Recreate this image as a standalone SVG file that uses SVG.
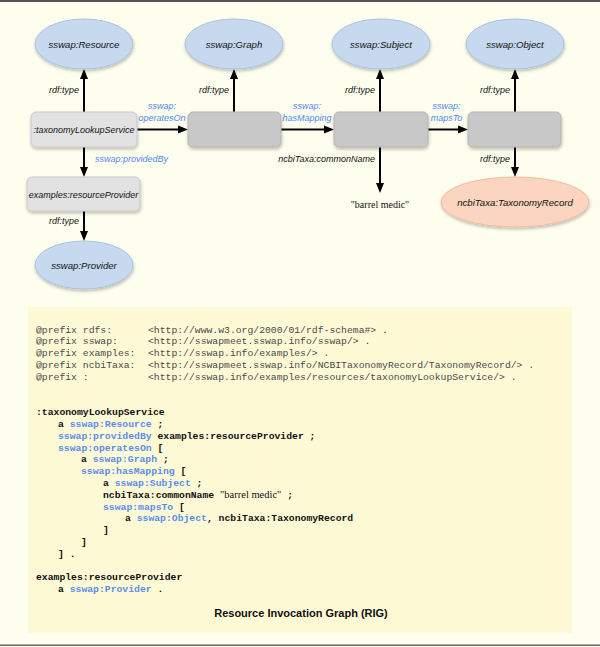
<svg xmlns="http://www.w3.org/2000/svg" width="600" height="647" viewBox="0 0 600 647">
<style>
.lbl{font-family:"Liberation Sans",Arial,sans-serif;font-style:italic;font-size:9px;fill:#111}
.big{font-size:9.6px}
.blue{fill:#4f86f0}
.mid{text-anchor:middle}
.end{text-anchor:end}
.ell{fill:#c6d9ee;stroke:#a9c2df;stroke-width:1}
.box1{fill:#e2e2e2;stroke:#c9c9c9;stroke-width:1}
.box2{fill:#c8c8c8;stroke:#b4b4b4;stroke-width:1}
.edge{stroke:#000;stroke-width:2;fill:none;marker-end:url(#ah)}
.code{font-family:"Liberation Mono","Courier New",monospace;font-size:9.75px}
.pre{fill:#4a4a4a}
.b{font-weight:bold;fill:#111}
.kw{fill:#5a8cf0}
.ser{font-family:"Liberation Serif","Times New Roman",serif;font-weight:normal;font-size:10.5px}
</style>
<defs>
<filter id="sh" x="-20%" y="-20%" width="140%" height="160%">
<feDropShadow dx="0.5" dy="2" stdDeviation="1.5" flood-color="#000" flood-opacity="0.25"/>
</filter>
<marker id="ah" markerUnits="userSpaceOnUse" markerWidth="10" markerHeight="10" viewBox="0 0 10 10" refX="5" refY="5" orient="auto">
<path d="M0,1 L10,5 L0,9 z" fill="#000"/>
</marker>
</defs>
<rect x="0" y="0" width="600" height="647" fill="#fefeee"/>
<rect x="0" y="0" width="600" height="2" fill="#555"/>
<rect x="0" y="644.5" width="600" height="1.5" fill="#666"/>
<rect x="28" y="307" width="544" height="326" fill="#fffad6"/>

<g id="connectors">
<line class="edge" x1="84" y1="112" x2="84" y2="74"/>
<line class="edge" x1="234" y1="112" x2="234" y2="74"/>
<line class="edge" x1="380" y1="112" x2="380" y2="74"/>
<line class="edge" x1="515" y1="112" x2="515" y2="74"/>
<line class="edge" x1="137" y1="129.5" x2="183" y2="129.5"/>
<line class="edge" x1="281" y1="129.5" x2="329" y2="129.5"/>
<line class="edge" x1="428" y1="129.5" x2="463" y2="129.5"/>
<line class="edge" x1="84" y1="147" x2="84" y2="172"/>
<line class="edge" x1="84" y1="211" x2="84" y2="236"/>
<line class="edge" x1="380" y1="147" x2="380" y2="188"/>
<line class="edge" x1="515" y1="147" x2="515" y2="172"/>
<text class="lbl end" x="79" y="93">rdf:type</text>
<text class="lbl end" x="229" y="93">rdf:type</text>
<text class="lbl end" x="375" y="93">rdf:type</text>
<text class="lbl end" x="510" y="93">rdf:type</text>
<text class="lbl blue mid" x="162" y="108.5">sswap:</text>
<text class="lbl blue mid" x="162" y="120.5">operatesOn</text>
<text class="lbl blue mid" x="307" y="108.5">sswap:</text>
<text class="lbl blue mid" x="307" y="120.5">hasMapping</text>
<text class="lbl blue mid" x="446.5" y="108.5">sswap:</text>
<text class="lbl blue mid" x="446.5" y="120.5">mapsTo</text>
<text class="lbl blue" x="95" y="162">sswap:providedBy</text>
<text class="lbl end" x="375" y="162">ncbiTaxa:commonName</text>
<text class="lbl end" x="510" y="162">rdf:type</text>
<text class="lbl end" x="79" y="224">rdf:type</text>
</g>

<g id="n-resource">
<ellipse class="ell" cx="84" cy="44" rx="49" ry="25" filter="url(#sh)"/>
<text class="lbl big mid" x="84" y="47.5">sswap:Resource</text>
</g>
<g id="n-graph">
<ellipse class="ell" cx="234" cy="44" rx="49" ry="25" filter="url(#sh)"/>
<text class="lbl big mid" x="234" y="47.5">sswap:Graph</text>
</g>
<g id="n-subject">
<ellipse class="ell" cx="381" cy="44" rx="49" ry="25" filter="url(#sh)"/>
<text class="lbl big mid" x="381" y="47.5">sswap:Subject</text>
</g>
<g id="n-object">
<ellipse class="ell" cx="515" cy="44" rx="49" ry="25" filter="url(#sh)"/>
<text class="lbl big mid" x="515" y="47.5">sswap:Object</text>
</g>
<g id="n-service">
<rect class="box1" x="31" y="112" width="106" height="35" rx="5" filter="url(#sh)"/>
<text class="lbl mid" x="84" y="133">:taxonomyLookupService</text>
</g>
<g id="n-graph-inst">
<rect class="box2" x="188" y="112" width="93" height="35" rx="5" filter="url(#sh)"/>
</g>
<g id="n-subject-inst">
<rect class="box2" x="334" y="112" width="94" height="35" rx="5" filter="url(#sh)"/>
</g>
<g id="n-object-inst">
<rect class="box2" x="468" y="112" width="93" height="35" rx="5" filter="url(#sh)"/>
</g>
<g id="n-provider-inst">
<rect class="box1" x="27" y="177" width="113" height="34" rx="5" filter="url(#sh)"/>
<text class="lbl mid" x="83.5" y="197.5">examples:resourceProvider</text>
</g>
<g id="n-provider">
<ellipse class="ell" cx="84" cy="265" rx="49" ry="24" filter="url(#sh)"/>
<text class="lbl big mid" x="84" y="268.5">sswap:Provider</text>
</g>
<g id="n-literal">
<text x="380" y="207.5" text-anchor="middle" font-family="Liberation Serif, Times New Roman, serif" font-size="10" fill="#111">"barrel medic"</text>
</g>
<g id="n-taxrecord">
<ellipse cx="515" cy="202" rx="74" ry="25" fill="#fbd5bf" stroke="#efbda0" stroke-width="1" filter="url(#sh)"/>
<text class="lbl big mid" x="515" y="205.5">ncbiTaxa:TaxonomyRecord</text>
</g>

<g id="code" class="code">
<text class="pre" x="36" y="332.5">@prefix rdfs:</text>
<text class="pre" x="148" y="332.5">&lt;http://www.w3.org/2000/01/rdf-schema#&gt; .</text>
<text class="pre" x="36" y="344.3">@prefix sswap:</text>
<text class="pre" x="148" y="344.3">&lt;http://sswapmeet.sswap.info/sswap/&gt; .</text>
<text class="pre" x="36" y="356.1">@prefix examples:</text>
<text class="pre" x="148" y="356.1">&lt;http://sswap.info/examples/&gt; .</text>
<text class="pre" x="36" y="367.9">@prefix ncbiTaxa:</text>
<text class="pre" x="148" y="367.9">&lt;http://sswapmeet.sswap.info/NCBITaxonomyRecord/TaxonomyRecord/&gt; .</text>
<text class="pre" x="36" y="379.7">@prefix :</text>
<text class="pre" x="148" y="379.7">&lt;http://sswap.info/examples/resources/taxonomyLookupService/&gt; .</text>

<text class="b" x="36" y="415.2">:taxonomyLookupService</text>
<text class="b" x="58" y="427">a <tspan class="kw">sswap:Resource</tspan> ;</text>
<text class="b" x="58" y="438.8"><tspan class="kw">sswap:providedBy</tspan> examples:resourceProvider ;</text>
<text class="b" x="58" y="450.6"><tspan class="kw">sswap:operatesOn</tspan> [</text>
<text class="b" x="81" y="462.4">a <tspan class="kw">sswap:Graph</tspan> ;</text>
<text class="b" x="81" y="474.2"><tspan class="kw">sswap:hasMapping</tspan> [</text>
<text class="b" x="103" y="486">a <tspan class="kw">sswap:Subject</tspan> ;</text>
<text class="b" x="103" y="497.8">ncbiTaxa:commonName <tspan class="ser">"barrel medic"</tspan> ;</text>
<text class="b" x="103" y="509.6"><tspan class="kw">sswap:mapsTo</tspan> [</text>
<text class="b" x="125" y="521.4">a <tspan class="kw">sswap:Object</tspan>, ncbiTaxa:TaxonomyRecord</text>
<text class="b" x="103" y="533.2">]</text>
<text class="b" x="81" y="545">]</text>
<text class="b" x="58" y="556.8">] .</text>
<text class="b" x="36" y="580.4">examples:resourceProvider</text>
<text class="b" x="58" y="592.2">a <tspan class="kw">sswap:Provider</tspan> .</text>
</g>
<text x="301" y="617" text-anchor="middle" font-family="Liberation Sans, Arial, sans-serif" font-weight="bold" font-size="11" fill="#111">Resource Invocation Graph (RIG)</text>
</svg>
